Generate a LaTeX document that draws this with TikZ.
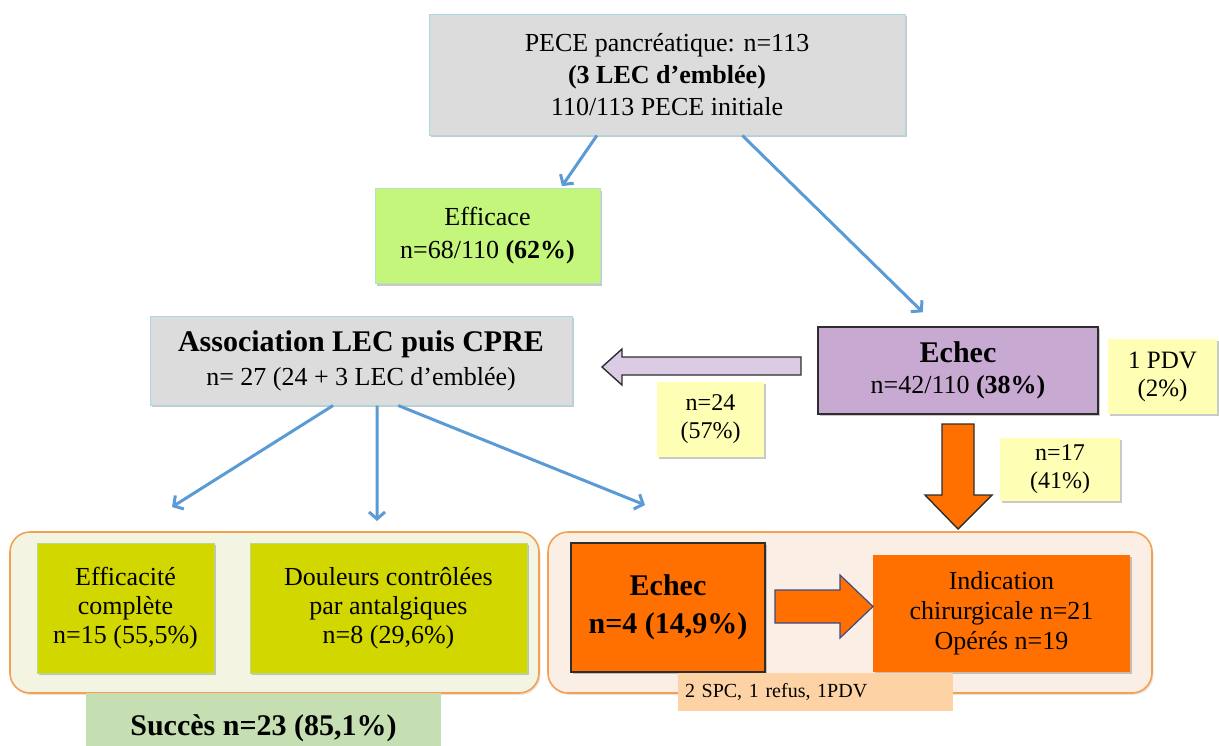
\documentclass[tikz,border=0pt]{standalone}
\usepackage{fontspec}
\setmainfont{Liberation Serif}
\usetikzlibrary{arrows.meta,shadows,calc}
\definecolor{graybox}{HTML}{DCDCDC}
\definecolor{grayedge}{HTML}{A9D9E3}
\definecolor{effgreen}{HTML}{C4F67C}
\definecolor{purplebox}{HTML}{C8A9D2}
\definecolor{lavender}{HTML}{DCCBE4}
\definecolor{yellowlab}{HTML}{FEFEB4}
\definecolor{orangebox}{HTML}{FF7000}
\definecolor{peachfill}{HTML}{FBEEE5}
\definecolor{beigefill}{HTML}{F4F4E3}
\definecolor{orangeedge}{HTML}{F5A050}
\definecolor{olivebox}{HTML}{D3D700}
\definecolor{succgreen}{HTML}{C6DFB2}
\definecolor{notefill}{HTML}{FDD3A6}
\definecolor{bluearrow}{HTML}{5B9BD5}
\definecolor{darkedge}{HTML}{2E2E2E}
\definecolor{navyedge}{HTML}{3A4A8A}
\newcommand{\fz}[2]{\fontsize{#1}{#2}\selectfont}
\begin{document}
\begin{tikzpicture}[x=1pt,y=-1pt,
  shad/.style={drop shadow={shadow xshift=1.5pt,shadow yshift=-2pt,opacity=0.3,fill=black!70}},
  basebox/.style={rectangle,inner sep=0pt,align=center,font=\fz{26}{31},text=black},
  graynode/.style={basebox,fill=graybox,draw=grayedge,line width=1pt,shad},
  greennode/.style={basebox,fill=effgreen,draw=grayedge!70!effgreen,line width=0.8pt,shad},
  purplenode/.style={basebox,fill=purplebox,draw=darkedge,line width=1.5pt,shad},
  labnode/.style={basebox,fill=yellowlab,font=\fz{24}{28},shad},
  olivenode/.style={basebox,fill=olivebox,draw=grayedge!60!olivebox,line width=0.8pt,font=\fz{26}{29},shad},
  orangenode/.style={basebox,fill=orangebox,shad},
  groupbox/.style={draw=orangeedge,line width=1.6pt,rounded corners=20pt,drop shadow={shadow xshift=1.5pt,shadow yshift=-2pt,opacity=0.2}},
  bluearr/.style={draw=bluearrow,line width=3pt,-{Straight Barb[length=7pt,width=16pt]}}
]
\useasboundingbox (0,0) rectangle (1219,745);
\begin{scope}
\clip (0,0) rectangle (1219,745);

% group boxes
\path[groupbox,fill=beigefill] (10,532) rectangle (539,693);
\path[groupbox,fill=peachfill] (548,532) rectangle (1152,693);

% main nodes
\node[graynode,minimum width=476pt,minimum height=121pt,font=\fz{26}{32}] (top) at (667,74.5)
  {PECE pancréatique: n=113\\ \textbf{(3 LEC d’emblée)}\\ 110/113 PECE initiale};
\node[greennode,minimum width=225pt,minimum height=95pt,font=\fz{26}{33}] (eff) at (487.5,236)
  {Efficace\\ n=68/110 \textbf{(62\%)}};
\node[graynode,minimum width=422pt,minimum height=89pt,font=\fz{26}{34}] (assoc) at (361,360.5)
  {{\fz{30}{34}\bfseries Association LEC puis CPRE}\\ n= 27 (24 + 3 LEC d’emblée)};
\node[purplenode,minimum width=280pt,minimum height=87pt] (echec1) at (958,370.5)
  {{\fz{30}{31}\bfseries Echec}\\ n=42/110 \textbf{(38\%)}};
\node[labnode,minimum width=109pt,minimum height=75pt,font=\fz{25}{28}] (pdv) at (1162.5,376.5)
  {1 PDV\\ (2\%)};
\node[labnode,minimum width=107pt,minimum height=75pt] (n24) at (710.5,419.5)
  {n=24\\ (57\%)};
\node[labnode,minimum width=120pt,minimum height=63pt] (n17) at (1060,469)
  {n=17\\ (41\%)};

\node[olivenode,minimum width=177pt,minimum height=130pt] (effc) at (125.5,608)
  {Efficacité\\ complète\\ n=15 (55,5\%)};
\node[olivenode,minimum width=277pt,minimum height=130pt] (doul) at (388.5,608)
  {Douleurs contrôlées\\ par antalgiques\\ n=8 (29,6\%)};
\node[orangenode,draw=darkedge,line width=1.5pt,minimum width=194pt,minimum height=129pt,font=\fz{30}{38}\bfseries] (echec2) at (668,607.5)
  {Echec\\ n=4 (14,9\%)};
\node[orangenode,minimum width=257pt,minimum height=117pt,font=\fz{26}{30}] (indic) at (1001.5,613.5)
  {Indication\\ chirurgicale n=21\\ Opérés n=19};
\node[basebox,fill=notefill,minimum width=275pt,minimum height=38pt,font=\fz{20}{24},text width=261pt,align=left] (note) at (815.5,692)
  {2 SPC, 1 refus, 1PDV};
\node[basebox,fill=succgreen,minimum width=355pt,minimum height=70pt,font=\fz{30}{34}\bfseries] (succ) at (263.5,728)
  {Succès n=23 (85,1\%)};

% block arrows
\filldraw[fill=lavender,draw=darkedge,line width=1.4pt,line join=miter]
  (602,367) -- (622,349) -- (622,357) -- (801,357) -- (801,375) -- (622,375) -- (622,385) -- cycle;
\filldraw[fill=orangebox,draw=darkedge,line width=1.4pt,line join=miter]
  (942,424) -- (974,424) -- (974,495) -- (992,495) -- (958,529) -- (925,495) -- (942,495) -- cycle;
\filldraw[fill=orangebox,draw=navyedge,line width=1.2pt,line join=miter]
  (775,590) -- (840,590) -- (840,575) -- (873,606.5) -- (840,638) -- (840,623) -- (775,623) -- cycle;

% blue arrows
\coordinate (e1) at (172,507);
\coordinate (e2) at (377,521);
\coordinate (e3) at (645,505);
\draw[bluearr] ($(top.south west)!0.353!(top.south east)$) -- ($(eff.north west)!0.83!(eff.north east)+(0,-2)$);
\draw[bluearr] ($(top.south west)!0.658!(top.south east)$) -- ($(echec1.north west)!0.375!(echec1.north east)+(0,-14)$);
\draw[bluearr] ($(assoc.south west)!0.434!(assoc.south east)$) -- (e1);
\draw[bluearr] ($(assoc.south west)!0.538!(assoc.south east)$) -- (e2);
\draw[bluearr] ($(assoc.south west)!0.588!(assoc.south east)$) -- (e3);
\end{scope}
\end{tikzpicture}
\end{document}
